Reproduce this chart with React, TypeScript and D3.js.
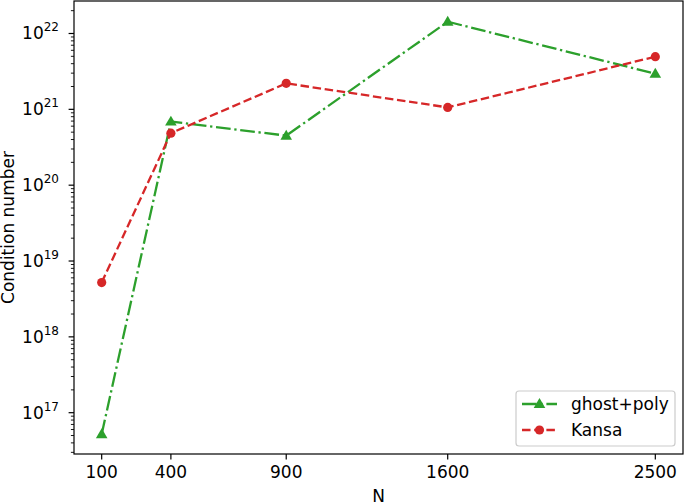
import React from "react";
import * as d3 from "d3";

const categories = [100, 400, 900, 1600, 2500];
const ghostPoly = [5.2e16, 6.9e20, 4.5e20, 1.43e22, 2.95e21];
const kansa = [5.2e18, 4.85e20, 2.2e21, 1.06e21, 4.95e21];
const xTicks = [100, 400, 900, 1600, 2500];
const yTickExps = [17, 18, 19, 20, 21, 22];

const W = 685;
const H = 503;
const L = 74, R = 683, T = 1, B = 454;
const GREEN = "#2ca02c";
const RED = "#d62728";
const FONT = "DejaVu Sans, sans-serif";
const LW = 2.3;

export default function App() {
  const x = d3.scaleLinear().domain([-20, 2620]).range([L, R]);
  const y = d3.scaleLog().domain([Math.pow(10, 16.4554), Math.pow(10, 22.4285)]).range([B, T]);

  const line = d3
    .line<number>()
    .x((_, i) => x(categories[i]))
    .y((d) => y(d));

  const minor: number[] = [];
  for (let e = 16; e <= 22; e++) {
    for (let m = 2; m <= 9; m++) {
      const v = m * Math.pow(10, e);
      const py = y(v);
      if (py >= T && py <= B) minor.push(v);
    }
  }

  const tri = (cx: number, cy: number, s: number) => {
    const h = s * 0.95;
    return `M${cx},${cy - h * 0.62}L${cx + s * 0.58},${cy + h * 0.42}L${cx - s * 0.58},${cy + h * 0.42}Z`;
  };

  const dashed = `${3.7 * LW},${1.6 * LW}`;
  const dashdot = `${6.4 * LW},${1.6 * LW},${1 * LW},${1.6 * LW}`;

  return (
    <svg
      width={W}
      height={H}
      style={{ position: "absolute", left: 0, top: 0, background: "#fff" }}
      fontFamily={FONT}
    >
      <rect x={0} y={0} width={W} height={H} fill="#fff" />
      {/* series */}
      <path d={line(ghostPoly) || ""} fill="none" stroke={GREEN} strokeWidth={LW} strokeDasharray={dashdot} />
      <path d={line(kansa) || ""} fill="none" stroke={RED} strokeWidth={LW} strokeDasharray={dashed} />
      {ghostPoly.map((v, i) => (
        <path key={"g" + i} d={tri(x(categories[i]), y(v), 10)} fill={GREEN} />
      ))}
      {kansa.map((v, i) => (
        <circle key={"k" + i} cx={x(categories[i])} cy={y(v)} r={4.6} fill={RED} />
      ))}

      {/* spines */}
      <rect x={L} y={T} width={R - L} height={B - T} fill="none" stroke="#000" strokeWidth={1.2} />

      {/* x ticks */}
      {xTicks.map((t) => (
        <g key={"x" + t}>
          <line x1={x(t)} x2={x(t)} y1={B} y2={B + 5.4} stroke="#000" strokeWidth={1.2} />
          <text x={x(t)} y={B + 24} textAnchor="middle" fontSize={17} fill="#000">
            {t}
          </text>
        </g>
      ))}

      {/* y ticks */}
      {yTickExps.map((e) => {
        const py = y(Math.pow(10, e));
        return (
          <g key={"y" + e}>
            <line x1={L - 5.4} x2={L} y1={py} y2={py} stroke="#000" strokeWidth={1.2} />
            <text x={L - 15} y={py + 6} textAnchor="end" fontSize={17} fill="#000">
              10
              <tspan fontSize={12} dy={-8}>
                {e}
              </tspan>
            </text>
          </g>
        );
      })}
      {minor.map((v, i) => (
        <line key={"m" + i} x1={L - 3.1} x2={L} y1={y(v)} y2={y(v)} stroke="#000" strokeWidth={0.9} />
      ))}

      {/* axis labels */}
      <text x={(L + R) / 2} y={502} textAnchor="middle" fontSize={17} fill="#000">
        N
      </text>
      <text
        transform={`translate(14,${(T + B) / 2}) rotate(-90)`}
        textAnchor="middle"
        fontSize={17}
        fill="#000"
      >
        Condition number
      </text>

      {/* legend */}
      <g>
        <rect x={516} y={391} width={159} height={55} rx={3} fill="#fff" fillOpacity={0.8} stroke="#cccccc" strokeWidth={1.2} />
        <line x1={522} x2={557} y1={404} y2={404} stroke={GREEN} strokeWidth={LW} strokeDasharray={dashdot} />
        <path d={tri(539.5, 404, 10)} fill={GREEN} />
        <text x={571} y={410} fontSize={17} fill="#000">
          ghost+poly
        </text>
        <line x1={522} x2={557} y1={430} y2={430} stroke={RED} strokeWidth={LW} strokeDasharray={dashed} />
        <circle cx={539.5} cy={430} r={4.6} fill={RED} />
        <text x={571} y={436} fontSize={17} fill="#000">
          Kansa
        </text>
      </g>
    </svg>
  );
}
